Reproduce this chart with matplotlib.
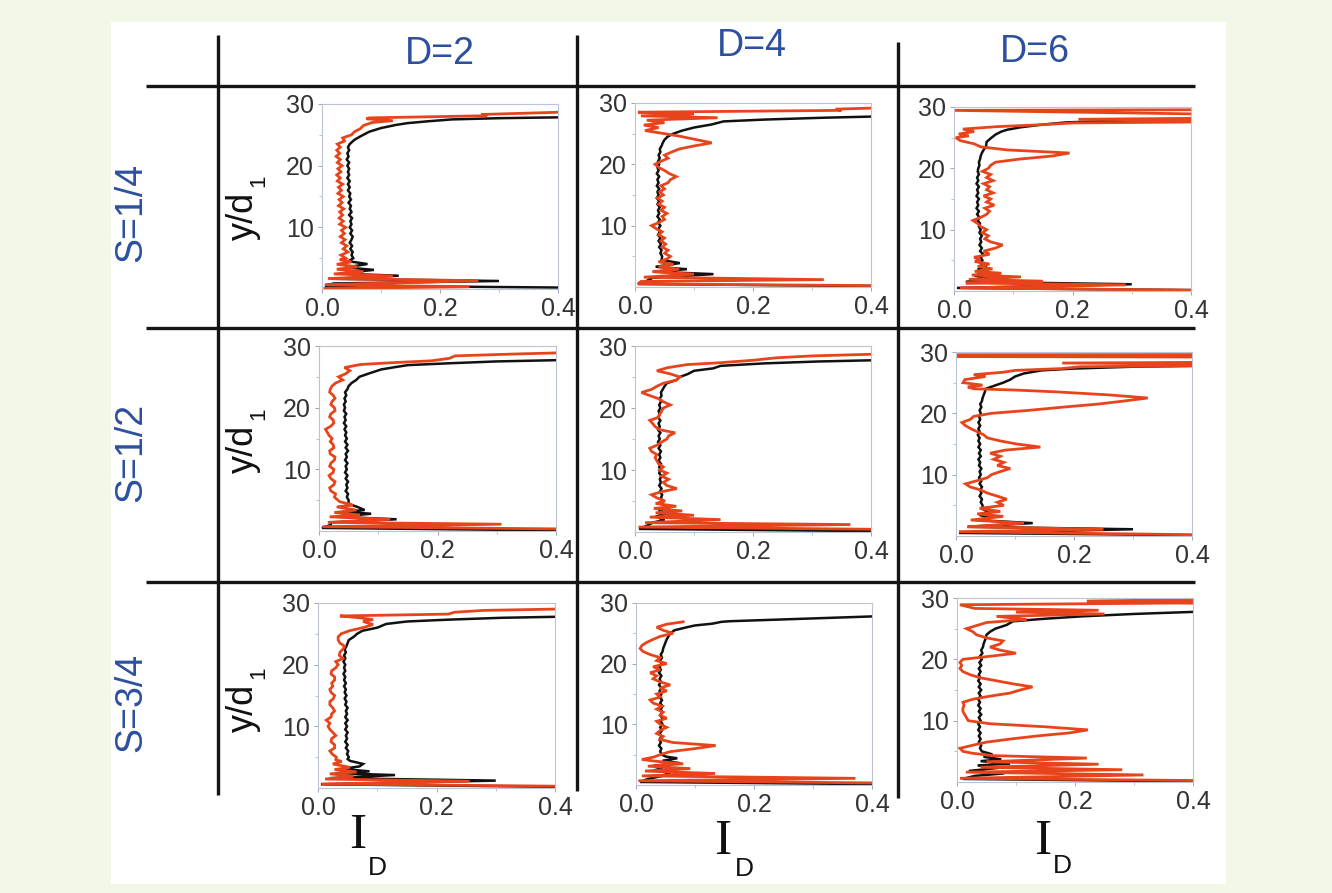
import numpy as np
import matplotlib
matplotlib.use('Agg')
import matplotlib.pyplot as plt
from matplotlib.patches import Rectangle

W, H = 1332, 893
plt.rcParams['font.family'] = ['Liberation Sans', 'DejaVu Sans']

# ---- data: I_D profiles vs y/d1, one black and one red curve per panel ----
# common y grid for the middle part of every profile
Y_MID = [5.0, 5.5, 6.0, 6.5, 7.0, 7.5, 8.0, 8.5, 9.0, 9.5,
         10.0, 10.5, 11.0, 11.5, 12.0, 12.5, 13.0, 13.5, 14.0, 14.5,
         15.0, 15.5, 16.0, 16.5, 17.0, 17.5, 18.0, 18.5, 19.0, 19.5,
         20.0, 20.5, 21.0, 21.5, 22.0, 22.5, 23.0, 23.5]

row_labels = ['S=1/4', 'S=1/2', 'S=3/4']
col_labels = ['D=2', 'D=4', 'D=6']

# S=1/4, D=2
k11_bot_y = [0.2, 0.55, 0.9, 1.3, 1.65, 2.15, 2.5, 3.1, 3.5, 4.05, 4.5]
k11_bot_x = [0.45, 0.005, 0.02, 0.30, 0.015, 0.13, 0.03, 0.088, 0.04, 0.077, 0.045]
k11_mid = [0.053, 0.050, 0.052, 0.048, 0.051, 0.047, 0.050, 0.052, 0.048, 0.051,
           0.047, 0.050, 0.048, 0.051, 0.046, 0.050, 0.047, 0.049, 0.045, 0.049,
           0.046, 0.048, 0.044, 0.047, 0.044, 0.047, 0.043, 0.046, 0.044, 0.046,
           0.043, 0.046, 0.042, 0.045, 0.043, 0.046, 0.044, 0.047]
k11_top_y = [24.2, 24.8, 25.5, 26.1, 26.6, 26.9, 27.2, 27.5, 27.7, 27.9]
k11_top_x = [0.055, 0.066, 0.08, 0.10, 0.125, 0.145, 0.18, 0.22, 0.30, 0.45]
r11_bot_y = [0.1, 0.35, 0.7, 1.35, 1.7, 2.1, 2.45, 2.8, 3.2, 3.6, 4.0, 4.4, 4.75]
r11_bot_x = [0.005, 0.25, 0.005, 0.265, 0.01, 0.12, 0.02, 0.07, 0.025, 0.06, 0.025, 0.05, 0.03]
r11_mid = [0.040, 0.032, 0.044, 0.036, 0.042, 0.033, 0.039, 0.031, 0.038, 0.033,
           0.040, 0.030, 0.036, 0.029, 0.035, 0.030, 0.037, 0.028, 0.034, 0.029,
           0.036, 0.027, 0.033, 0.028, 0.035, 0.026, 0.031, 0.025, 0.032, 0.027,
           0.034, 0.026, 0.031, 0.024, 0.030, 0.025, 0.031, 0.026]
r11_top_y = [24.0, 24.5, 25.0, 25.5, 26.0, 26.5, 27.0, 27.3, 27.6, 27.75, 28.1, 28.3, 28.8]
r11_top_x = [0.038, 0.035, 0.05, 0.055, 0.065, 0.07, 0.085, 0.12, 0.075, 0.08, 0.28, 0.27, 0.45]

# S=1/4, D=4
k12_bot_y = [0.1, 0.5, 1.0, 1.5, 2.1, 2.5, 2.9, 3.3, 3.9, 4.4]
k12_bot_x = [0.45, 0.005, 0.02, 0.03, 0.133, 0.03, 0.088, 0.035, 0.076, 0.045]
k12_mid = [0.046, 0.043, 0.045, 0.041, 0.044, 0.040, 0.043, 0.039, 0.042, 0.040,
           0.043, 0.039, 0.042, 0.038, 0.041, 0.039, 0.042, 0.038, 0.041, 0.037,
           0.040, 0.038, 0.041, 0.037, 0.040, 0.038, 0.041, 0.037, 0.040, 0.038,
           0.041, 0.039, 0.042, 0.040, 0.043, 0.042, 0.045, 0.047]
k12_top_y = [24.0, 24.5, 25.0, 25.5, 26.0, 26.5, 27.0, 27.3, 27.6, 27.9]
k12_top_x = [0.05, 0.055, 0.065, 0.08, 0.10, 0.13, 0.15, 0.22, 0.32, 0.45]
r12_bot_y = [0.2, 0.5, 0.9, 1.2, 1.6, 2.1, 2.5, 2.9, 3.3, 3.7, 4.1, 4.6]
r12_bot_x = [0.45, 0.005, 0.01, 0.32, 0.015, 0.10, 0.03, 0.075, 0.04, 0.065, 0.04, 0.055]
r12_mid = [0.060, 0.050, 0.056, 0.046, 0.052, 0.044, 0.050, 0.040, 0.046, 0.036,
           0.028, 0.040, 0.050, 0.046, 0.054, 0.044, 0.050, 0.040, 0.046, 0.038,
           0.048, 0.042, 0.050, 0.044, 0.056, 0.060, 0.070, 0.058, 0.050, 0.040,
           0.034, 0.044, 0.056, 0.050, 0.062, 0.075, 0.100, 0.130]
r12_top_y = [24.0, 24.6, 25.0, 25.5, 26.0, 26.4, 26.8, 27.2, 27.6, 27.9, 28.2, 28.5, 28.8, 29.0, 29.3]
r12_top_x = [0.105, 0.075, 0.05, 0.017, 0.04, 0.015, 0.05, 0.02, 0.14, 0.01, 0.10, 0.005, 0.35, 0.34, 0.45]

# S=1/4, D=6
k13_bot_y = [0.1, 0.5, 1.1, 1.5, 2.0, 2.5, 3.0, 3.5, 4.0, 4.5]
k13_bot_x = [0.45, 0.005, 0.30, 0.02, 0.06, 0.035, 0.05, 0.04, 0.055, 0.045]
k13_mid = [0.048, 0.045, 0.049, 0.044, 0.047, 0.043, 0.046, 0.044, 0.047, 0.043,
           0.045, 0.042, 0.044, 0.040, 0.043, 0.039, 0.042, 0.038, 0.041, 0.039,
           0.042, 0.038, 0.041, 0.039, 0.042, 0.038, 0.041, 0.039, 0.042, 0.040,
           0.041, 0.043, 0.042, 0.044, 0.045, 0.047, 0.050, 0.054]
k13_top_y = [24.3, 24.9, 25.5, 26.0, 26.3, 26.7, 27.1, 27.5, 27.8, 28.0]
k13_top_x = [0.055, 0.062, 0.07, 0.08, 0.09, 0.113, 0.146, 0.19, 0.30, 0.45]
r13_bot_y = [0.1, 0.5, 1.0, 1.3, 1.6, 1.9, 2.3, 2.6, 2.9, 3.2, 3.6, 4.0, 4.4, 4.8]
r13_bot_x = [0.45, 0.01, 0.29, 0.02, 0.15, 0.025, 0.113, 0.03, 0.08, 0.035, 0.065, 0.04, 0.06, 0.035]
r13_mid = [0.045, 0.034, 0.060, 0.050, 0.070, 0.082, 0.062, 0.052, 0.058, 0.048,
           0.055, 0.045, 0.040, 0.032, 0.045, 0.055, 0.060, 0.052, 0.068, 0.055,
           0.062, 0.050, 0.066, 0.055, 0.060, 0.050, 0.066, 0.055, 0.062, 0.048,
           0.058, 0.062, 0.070, 0.110, 0.165, 0.195, 0.090, 0.045]
r13_top_y = [24.0, 24.5, 25.0, 25.3, 25.6, 26.0, 26.4, 26.8, 27.1, 27.4, 27.7, 28.0, 28.3, 28.6, 29.45, 29.6]
r13_top_x = [0.034, 0.011, 0.003, 0.025, 0.008, 0.034, 0.015, 0.073, 0.146, 0.20, 0.6, 0.21, 0.6, 0.6, 0.0, 0.6]

# S=1/2, D=2
k21_bot_y = [0.05, 0.5, 1.0, 1.4, 1.9, 2.3, 2.8, 3.1, 3.4, 3.9, 4.4]
k21_bot_x = [0.45, 0.005, 0.02, 0.02, 0.131, 0.03, 0.088, 0.04, 0.077, 0.065, 0.05]
k21_mid = [0.050, 0.047, 0.049, 0.045, 0.048, 0.046, 0.049, 0.045, 0.048, 0.044,
           0.047, 0.045, 0.048, 0.044, 0.047, 0.045, 0.049, 0.045, 0.048, 0.044,
           0.047, 0.044, 0.046, 0.043, 0.046, 0.042, 0.045, 0.043, 0.046, 0.042,
           0.044, 0.042, 0.045, 0.043, 0.046, 0.044, 0.048, 0.050]
k21_top_y = [24.0, 24.5, 25.0, 25.6, 26.2, 26.6, 26.9, 27.2, 27.5, 27.8]
k21_top_x = [0.055, 0.063, 0.068, 0.086, 0.105, 0.13, 0.15, 0.22, 0.30, 0.45]
r21_bot_y = [0.3, 0.7, 1.1, 1.4, 1.9, 2.3, 2.6, 3.0, 3.4, 3.9, 4.2, 4.75]
r21_bot_x = [0.45, 0.006, 0.308, 0.015, 0.12, 0.018, 0.069, 0.026, 0.063, 0.03, 0.057, 0.035]
r21_mid = [0.032, 0.026, 0.028, 0.020, 0.018, 0.025, 0.027, 0.020, 0.017, 0.024,
           0.025, 0.018, 0.020, 0.026, 0.027, 0.019, 0.018, 0.025, 0.024, 0.019,
           0.022, 0.017, 0.014, 0.011, 0.020, 0.025, 0.024, 0.018, 0.020, 0.027,
           0.026, 0.020, 0.022, 0.027, 0.024, 0.018, 0.019, 0.022]
r21_top_y = [24.0, 24.5, 25.0, 25.5, 26.0, 26.5, 27.0, 27.3, 27.6, 28.0, 28.4, 28.7, 29.0]
r21_top_x = [0.028, 0.04, 0.033, 0.045, 0.052, 0.043, 0.07, 0.125, 0.19, 0.22, 0.23, 0.33, 0.45]

# S=1/2, D=4
k22_bot_y = [0.1, 0.5, 1.0, 1.5, 2.0, 2.5, 3.0, 3.5, 4.0, 4.5]
k22_bot_x = [0.45, 0.007, 0.02, 0.03, 0.05, 0.035, 0.055, 0.04, 0.06, 0.045]
k22_mid = [0.047, 0.044, 0.046, 0.042, 0.045, 0.041, 0.044, 0.042, 0.045, 0.041,
           0.043, 0.041, 0.044, 0.040, 0.043, 0.041, 0.044, 0.040, 0.043, 0.039,
           0.042, 0.040, 0.043, 0.039, 0.042, 0.040, 0.043, 0.039, 0.042, 0.040,
           0.043, 0.041, 0.044, 0.042, 0.045, 0.044, 0.047, 0.050]
k22_top_y = [24.0, 24.5, 25.0, 25.5, 26.0, 26.4, 26.8, 27.2, 27.5, 27.8]
k22_top_x = [0.054, 0.07, 0.076, 0.09, 0.10, 0.133, 0.145, 0.22, 0.31, 0.45]
r22_bot_y = [0.4, 0.8, 1.2, 1.5, 2.0, 2.4, 2.7, 3.1, 3.4, 3.8, 4.15, 4.6]
r22_bot_x = [0.45, 0.006, 0.365, 0.017, 0.145, 0.025, 0.10, 0.035, 0.08, 0.032, 0.07, 0.035]
r22_mid = [0.051, 0.037, 0.028, 0.045, 0.071, 0.054, 0.048, 0.057, 0.045, 0.054,
           0.042, 0.048, 0.040, 0.037, 0.034, 0.037, 0.028, 0.025, 0.037, 0.045,
           0.054, 0.057, 0.068, 0.042, 0.034, 0.030, 0.025, 0.040, 0.042, 0.045,
           0.048, 0.060, 0.048, 0.040, 0.025, 0.011, 0.028, 0.037]
r22_top_y = [24.0, 24.5, 25.0, 25.5, 26.0, 26.5, 27.0, 27.3, 27.7, 28.1, 28.4, 28.8]
r22_top_x = [0.048, 0.07, 0.076, 0.06, 0.037, 0.055, 0.088, 0.144, 0.20, 0.24, 0.30, 0.45]

# S=1/2, D=6
k23_bot_y = [0.1, 0.5, 1.1, 1.5, 2.1, 2.6, 3.0, 3.4, 3.9, 4.4]
k23_bot_x = [0.45, 0.005, 0.30, 0.02, 0.13, 0.035, 0.06, 0.04, 0.055, 0.045]
k23_mid = [0.045, 0.042, 0.044, 0.040, 0.043, 0.041, 0.044, 0.040, 0.043, 0.039,
           0.042, 0.040, 0.043, 0.039, 0.041, 0.038, 0.042, 0.039, 0.042, 0.038,
           0.041, 0.038, 0.040, 0.037, 0.040, 0.038, 0.041, 0.038, 0.041, 0.039,
           0.042, 0.040, 0.043, 0.041, 0.044, 0.045, 0.047, 0.049]
k23_top_y = [24.0, 24.5, 25.0, 25.5, 26.0, 26.5, 27.0, 27.3, 27.6, 27.8]
k23_top_x = [0.05, 0.065, 0.08, 0.092, 0.10, 0.115, 0.145, 0.20, 0.30, 0.45]
r23_bot_y = [0.15, 0.7, 1.1, 1.5, 2.1, 2.6, 3.2, 3.6, 4.0, 4.5]
r23_bot_x = [0.45, 0.005, 0.25, 0.019, 0.115, 0.025, 0.08, 0.036, 0.075, 0.04]
r23_mid = [0.081, 0.070, 0.086, 0.070, 0.053, 0.042, 0.024, 0.016, 0.035, 0.053,
           0.060, 0.075, 0.092, 0.070, 0.081, 0.064, 0.075, 0.058, 0.083, 0.143,
           0.103, 0.075, 0.053, 0.047, 0.036, 0.025, 0.016, 0.010, 0.024, 0.030,
           0.060, 0.125, 0.180, 0.240, 0.284, 0.325, 0.260, 0.170]
r23_top_y = [23.8, 24.0, 24.3, 24.6, 25.0, 25.5, 26.0, 26.3, 26.7, 27.0, 27.3, 27.6, 27.9, 28.2, 28.4,
             29.15, 29.25, 29.55, 29.6]
r23_top_x = [0.10, 0.03, 0.02, 0.045, 0.012, 0.015, 0.05, 0.03, 0.08, 0.10, 0.18, 0.21, 0.6, 0.18, 0.6,
             0.6, 0.0, 0.0, 0.6]

# S=3/4, D=2
k31_bot_y = [0.15, 0.6, 1.2, 1.6, 2.1, 2.4, 2.7, 3.1, 3.5, 3.9, 4.4, 4.7]
k31_bot_x = [0.45, 0.005, 0.30, 0.02, 0.13, 0.03, 0.087, 0.04, 0.07, 0.076, 0.054, 0.05]
k31_mid = [0.052, 0.049, 0.051, 0.047, 0.050, 0.046, 0.049, 0.047, 0.050, 0.046,
           0.049, 0.046, 0.050, 0.046, 0.049, 0.047, 0.050, 0.046, 0.048, 0.045,
           0.048, 0.045, 0.047, 0.044, 0.047, 0.044, 0.046, 0.043, 0.046, 0.044,
           0.046, 0.043, 0.046, 0.044, 0.047, 0.045, 0.048, 0.050]
k31_top_y = [24.0, 24.5, 25.0, 25.5, 26.0, 26.6, 27.0, 27.3, 27.6, 27.85]
k31_top_x = [0.052, 0.06, 0.066, 0.075, 0.10, 0.115, 0.15, 0.22, 0.31, 0.45]
r31_bot_y = [0.25, 0.65, 1.1, 1.45, 1.9, 2.3, 2.6, 3.0, 3.35, 3.9, 4.3, 4.6]
r31_bot_x = [0.45, 0.006, 0.256, 0.012, 0.06, 0.02, 0.065, 0.028, 0.054, 0.025, 0.04, 0.03]
r31_mid = [0.031, 0.024, 0.020, 0.028, 0.028, 0.022, 0.023, 0.030, 0.025, 0.020,
           0.017, 0.020, 0.014, 0.022, 0.023, 0.028, 0.025, 0.020, 0.020, 0.026,
           0.028, 0.022, 0.020, 0.025, 0.023, 0.028, 0.028, 0.022, 0.023, 0.030,
           0.034, 0.030, 0.042, 0.036, 0.037, 0.042, 0.045, 0.037]
r31_top_y = [24.0, 24.5, 25.0, 25.5, 26.0, 26.5, 27.0, 27.3, 27.6, 27.9, 28.2, 28.5, 28.8, 29.1]
r31_top_x = [0.034, 0.034, 0.039, 0.053, 0.076, 0.093, 0.076, 0.093, 0.07, 0.037, 0.22, 0.23, 0.28, 0.45]

# S=3/4, D=4
k32_bot_y = [0.1, 0.5, 1.0, 1.5, 2.0, 2.4, 2.8, 3.2, 3.6, 4.0, 4.4, 4.7]
k32_bot_x = [0.45, 0.007, 0.02, 0.045, 0.058, 0.03, 0.045, 0.03, 0.075, 0.045, 0.07, 0.05]
k32_mid = [0.044, 0.041, 0.043, 0.039, 0.042, 0.040, 0.043, 0.040, 0.044, 0.041,
           0.045, 0.042, 0.045, 0.041, 0.044, 0.042, 0.045, 0.041, 0.044, 0.040,
           0.043, 0.040, 0.043, 0.039, 0.042, 0.040, 0.043, 0.039, 0.042, 0.040,
           0.043, 0.041, 0.044, 0.042, 0.045, 0.046, 0.048, 0.050]
k32_top_y = [24.0, 24.5, 25.0, 25.5, 26.0, 26.3, 26.6, 26.9, 27.0, 27.95]
k32_top_x = [0.052, 0.055, 0.058, 0.065, 0.086, 0.10, 0.13, 0.145, 0.16, 0.45]
r32_bot_y = [0.3, 0.7, 1.1, 1.5, 1.9, 2.3, 2.7, 3.1, 3.5, 3.9, 4.2, 4.6]
r32_bot_x = [0.45, 0.004, 0.372, 0.01, 0.134, 0.015, 0.092, 0.02, 0.08, 0.035, 0.01, 0.03]
r32_mid = [0.041, 0.058, 0.100, 0.135, 0.063, 0.041, 0.046, 0.035, 0.041, 0.052,
           0.041, 0.035, 0.052, 0.041, 0.046, 0.035, 0.044, 0.029, 0.024, 0.041,
           0.035, 0.052, 0.041, 0.058, 0.041, 0.029, 0.035, 0.024, 0.041, 0.029,
           0.052, 0.035, 0.041, 0.024, 0.012, 0.007, 0.010, 0.018]
r32_top_y = [24.0, 24.5, 25.0, 25.5, 26.0, 26.5, 26.9]
r32_top_x = [0.029, 0.041, 0.063, 0.046, 0.035, 0.052, 0.08]

# S=3/4, D=6
k33_bot_y = [0.05, 0.5, 1.0, 1.4, 1.8, 2.3, 2.7, 3.0, 3.4, 3.7, 4.1, 4.5]
k33_bot_x = [0.45, 0.01, 0.03, 0.08, 0.02, 0.07, 0.035, 0.09, 0.04, 0.075, 0.045, 0.06]
k33_mid = [0.042, 0.039, 0.041, 0.037, 0.040, 0.037, 0.040, 0.036, 0.039, 0.036,
           0.040, 0.037, 0.041, 0.037, 0.040, 0.036, 0.039, 0.036, 0.040, 0.037,
           0.041, 0.037, 0.040, 0.036, 0.039, 0.037, 0.040, 0.037, 0.041, 0.038,
           0.042, 0.039, 0.043, 0.041, 0.044, 0.045, 0.047, 0.049]
k33_top_y = [24.0, 24.5, 25.0, 25.6, 26.2, 26.6, 27.0, 27.4, 27.9]
k33_top_x = [0.05, 0.056, 0.065, 0.084, 0.095, 0.146, 0.21, 0.30, 0.45]
r33_bot_y = [0.2, 0.6, 1.15, 1.6, 2.0, 2.4, 2.9, 3.3, 3.9, 4.3, 4.7]
r33_bot_x = [0.45, 0.005, 0.316, 0.015, 0.28, 0.04, 0.24, 0.05, 0.22, 0.06, 0.025]
r33_mid = [0.010, 0.005, 0.027, 0.050, 0.090, 0.135, 0.190, 0.222, 0.150, 0.056,
           0.019, 0.016, 0.013, 0.010, 0.010, 0.012, 0.010, 0.027, 0.056, 0.090,
           0.107, 0.128, 0.095, 0.067, 0.039, 0.022, 0.010, 0.005, 0.008, 0.005,
           0.010, 0.056, 0.100, 0.073, 0.056, 0.073, 0.078, 0.050]
r33_top_y = [24.0, 24.5, 25.0, 25.5, 26.0, 26.5, 27.0, 27.4, 27.7, 28.0, 28.3, 28.9, 29.2, 29.5, 29.8]
r33_top_x = [0.033, 0.027, 0.016, 0.033, 0.05, 0.118, 0.067, 0.25, 0.10, 0.24, 0.03, 0.005, 0.40, 0.22, 0.45]


def profile(bot_y, bot_x, mid_x, top_y, top_x):
    return np.array(bot_x + mid_x + top_x), np.array(bot_y + Y_MID + top_y)


panels = {
    (0, 0): (profile(k11_bot_y, k11_bot_x, k11_mid, k11_top_y, k11_top_x),
             profile(r11_bot_y, r11_bot_x, r11_mid, r11_top_y, r11_top_x)),
    (0, 1): (profile(k12_bot_y, k12_bot_x, k12_mid, k12_top_y, k12_top_x),
             profile(r12_bot_y, r12_bot_x, r12_mid, r12_top_y, r12_top_x)),
    (0, 2): (profile(k13_bot_y, k13_bot_x, k13_mid, k13_top_y, k13_top_x),
             profile(r13_bot_y, r13_bot_x, r13_mid, r13_top_y, r13_top_x)),
    (1, 0): (profile(k21_bot_y, k21_bot_x, k21_mid, k21_top_y, k21_top_x),
             profile(r21_bot_y, r21_bot_x, r21_mid, r21_top_y, r21_top_x)),
    (1, 1): (profile(k22_bot_y, k22_bot_x, k22_mid, k22_top_y, k22_top_x),
             profile(r22_bot_y, r22_bot_x, r22_mid, r22_top_y, r22_top_x)),
    (1, 2): (profile(k23_bot_y, k23_bot_x, k23_mid, k23_top_y, k23_top_x),
             profile(r23_bot_y, r23_bot_x, r23_mid, r23_top_y, r23_top_x)),
    (2, 0): (profile(k31_bot_y, k31_bot_x, k31_mid, k31_top_y, k31_top_x),
             profile(r31_bot_y, r31_bot_x, r31_mid, r31_top_y, r31_top_x)),
    (2, 1): (profile(k32_bot_y, k32_bot_x, k32_mid, k32_top_y, k32_top_x),
             profile(r32_bot_y, r32_bot_x, r32_mid, r32_top_y, r32_top_x)),
    (2, 2): (profile(k33_bot_y, k33_bot_x, k33_mid, k33_top_y, k33_top_x),
             profile(r33_bot_y, r33_bot_x, r33_mid, r33_top_y, r33_top_x)),
}

# ---- layout (pixel boxes, left/top/right/bottom) ----
boxes = {
    (0, 0): (322, 104, 558, 289), (0, 1): (635, 103, 871, 287), (0, 2): (954, 107, 1191, 291),
    (1, 0): (319, 346, 556, 531), (1, 1): (635, 346, 871, 532), (1, 2): (956, 352, 1192, 536),
    (2, 0): (318, 603, 555, 788), (2, 1): (636, 603, 872, 785), (2, 2): (957, 598, 1193, 782),
}

BLUE = '#2c4f9f'
RED = '#e8441c'

fig = plt.figure(figsize=(W / 100, H / 100), dpi=100, facecolor='#f3f7e8')

bg = fig.add_axes([0, 0, 1, 1], zorder=0)
bg.set_xlim(0, W)
bg.set_ylim(H, 0)
bg.axis('off')
bg.add_patch(Rectangle((111, 22), 1226 - 111, 884 - 22, facecolor='white', edgecolor='none'))

# table lines
for x0, y0, y1 in [(218, 35, 795), (577, 35, 791), (898, 42, 798)]:
    bg.plot([x0, x0], [y0, y1], color='#151515', lw=2.4, solid_capstyle='butt')
for y0 in [86, 328, 582]:
    bg.plot([146, 1195], [y0, y0], color='#151515', lw=2.4, solid_capstyle='butt')

for x0, y0, lab in zip([440, 752, 1035], [54, 46, 52], col_labels):
    bg.text(x0, y0, lab, color=BLUE, fontsize=27, ha='center', va='center')
for y0, lab in zip([212, 452, 702], row_labels):
    bg.text(131, y0, lab, color=BLUE, fontsize=27, ha='center', va='center', rotation=90)

for yc in [216, 449, 708]:
    bg.text(243, yc, 'y/d', color='#111111', fontsize=26, ha='center', va='center', rotation=90)
    bg.text(259, yc - 35, '1', color='#111111', fontsize=16, ha='center', va='center', rotation=90)

for xi, yi, xd, yd in [(358, 836, 377, 868), (723, 842, 744, 869), (1043, 842, 1062, 866)]:
    bg.text(xi, yi, 'I', color='#111111', fontsize=37, ha='center', va='center',
            family=['Liberation Serif', 'DejaVu Serif'])
    bg.text(xd, yd, 'D', color='#111111', fontsize=19, ha='center', va='center')

for (r, c), (l, t, rr, b) in boxes.items():
    ax = fig.add_axes([l / W, 1 - b / H, (rr - l) / W, (b - t) / H], zorder=2)
    ax.set_facecolor('white')
    (kx, ky), (rx, ry) = panels[(r, c)]
    ax.plot(kx, ky, color='#111111', lw=1.8, solid_joinstyle='miter')
    ax.plot(rx, ry, color=RED, lw=2.0, solid_joinstyle='miter')
    ax.set_xlim(0, 0.4)
    ax.set_ylim(0, 30)
    ax.set_xticks([0.0, 0.2, 0.4])
    ax.set_xticklabels(['0.0', '0.2', '0.4'])
    ax.set_xticks([0.1, 0.3], minor=True)
    ax.set_yticks([10, 20, 30])
    ax.set_yticks([5, 15, 25], minor=True)
    for s in ax.spines.values():
        s.set_color('#bcc4d4')
        s.set_linewidth(0.8)
    ax.tick_params(which='major', length=3, width=0.7, color='#9aa4b8', labelsize=18,
                   labelcolor='#333333', pad=3)
    ax.tick_params(which='minor', length=2, width=0.6, color='#b0b8c8')

fig.savefig('out.png', dpi=100, facecolor=fig.get_facecolor())
